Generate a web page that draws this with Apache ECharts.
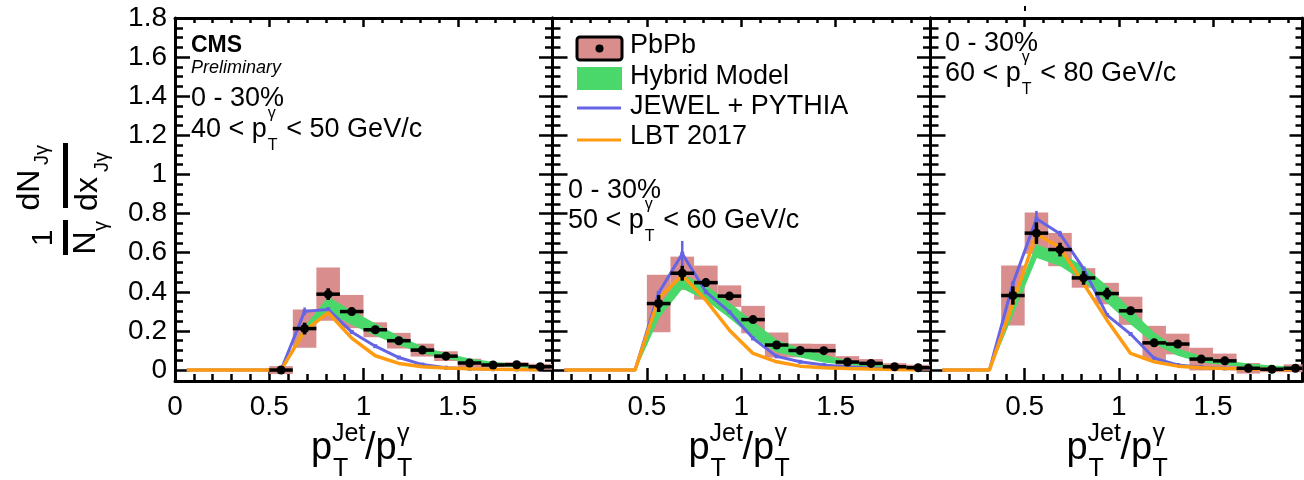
<!DOCTYPE html>
<html><head><meta charset="utf-8">
<script src="https://cdn.jsdelivr.net/npm/echarts@6/dist/echarts.min.js"></script>
<style>html,body{margin:0;padding:0;background:#fff}#c{width:1304px;height:480px}</style>
</head><body><div id="c"></div><script>
// ---------- data ----------
const binCenters = [0.0625, 0.1875, 0.3125, 0.4375, 0.5625, 0.6875, 0.8125, 0.9375, 1.0625, 1.1875, 1.3125, 1.4375, 1.5625, 1.6875, 1.8125, 1.9375];
const binHalfWidth = 0.0625;

// 40 < pT < 50
const pbpbBins40 = [0.5625, 0.6875, 0.8125, 0.9375, 1.0625, 1.1875, 1.3125, 1.4375, 1.5625, 1.6875, 1.8125, 1.9375];
const pbpb40 = [0.0, 0.212, 0.388, 0.299, 0.206, 0.150, 0.102, 0.071, 0.036, 0.026, 0.027, 0.017];
const sys40  = [0.02, 0.098, 0.136, 0.085, 0.038, 0.04, 0.033, 0.025, 0.022, 0.012, 0.013, 0.015];
const stat40 = [0.01, 0.03, 0.03, 0.02, 0.015, 0.012, 0.01, 0.008, 0.006, 0.005, 0.005, 0.005];
const hybridLo40 = [null, null, null, null, 0, 0.19, 0.30, 0.235, 0.18, 0.13, 0.09, 0.063, 0.04, 0.027, 0.018, 0.01];
const hybridHi40 = [null, null, null, null, 0, 0.215, 0.37, 0.30, 0.235, 0.17, 0.115, 0.082, 0.055, 0.038, 0.027, 0.02];
const jewel40 = [0, 0, 0, 0, 0, 0.30, 0.31, 0.195, 0.122, 0.064, 0.028, 0.012, 0.007, 0.004, 0.003, 0.002];
const jewelErr40 = [0, 0, 0, 0, 0, 0.02, 0.012, 0, 0, 0, 0, 0, 0, 0, 0, 0];
const lbt40 = [0, 0, 0, 0, 0, 0.20, 0.294, 0.163, 0.073, 0.034, 0.017, 0.010, 0.006, 0.004, 0.003, 0.002];

// 50 < pT < 60
const pbpbBins50 = [0.5625, 0.6875, 0.8125, 0.9375, 1.0625, 1.1875, 1.3125, 1.4375, 1.5625, 1.6875, 1.8125, 1.9375];
const pbpb50 = [0.34, 0.495, 0.447, 0.378, 0.258, 0.128, 0.10, 0.099, 0.041, 0.034, 0.017, 0.012];
const sys50  = [0.147, 0.085, 0.087, 0.055, 0.07, 0.064, 0.035, 0.035, 0.03, 0.022, 0.018, 0.015];
const stat50 = [0.043, 0.038, 0.022, 0.02, 0.015, 0.01, 0.008, 0.008, 0.006, 0.005, 0.004, 0.004];
const hybridLo50 = [null, null, null, 0, 0.27, 0.42, 0.36, 0.27, 0.17, 0.095, 0.068, 0.042, 0.03, 0.02, 0.01, 0.006];
const hybridHi50 = [null, null, null, 0, 0.32, 0.485, 0.43, 0.34, 0.245, 0.15, 0.108, 0.075, 0.045, 0.03, 0.02, 0.012];
const jewel50 = [0, 0, 0, 0, 0.394, 0.595, 0.40, 0.297, 0.162, 0.07, 0.042, 0.026, 0.015, 0.01, 0.006, 0.004];
const jewelErr50 = [0, 0, 0, 0, 0.01, 0.065, 0.01, 0, 0, 0, 0, 0, 0, 0, 0, 0];
const lbt50 = [0, 0, 0, 0, 0.366, 0.485, 0.357, 0.204, 0.085, 0.042, 0.02, 0.012, 0.008, 0.005, 0.003, 0.002];

// 60 < pT < 80
const pbpbBins60 = [0.4375, 0.5625, 0.6875, 0.8125, 0.9375, 1.0625, 1.1875, 1.3125, 1.4375, 1.5625, 1.6875, 1.8125, 1.9375];
const pbpb60 = [0.381, 0.70, 0.616, 0.471, 0.391, 0.303, 0.139, 0.133, 0.056, 0.047, 0.009, 0.004, 0.009];
const sys60  = [0.153, 0.105, 0.085, 0.05, 0.055, 0.072, 0.087, 0.053, 0.058, 0.037, 0.027, 0.015, 0.02];
const stat60 = [0.047, 0.055, 0.035, 0.035, 0.03, 0.02, 0.012, 0.01, 0.008, 0.007, 0.005, 0.004, 0.004];
const hybridLo60 = [null, null, 0, 0.29, 0.578, 0.536, 0.459, 0.348, 0.238, 0.139, 0.077, 0.042, 0.03, 0.018, 0.01, 0.006];
const hybridHi60 = [null, null, 0, 0.33, 0.638, 0.595, 0.527, 0.425, 0.306, 0.187, 0.106, 0.068, 0.045, 0.03, 0.02, 0.013];
const jewel60 = [0, 0, 0, 0.442, 0.774, 0.697, 0.519, 0.281, 0.184, 0.06, 0.026, 0.014, 0.008, 0.005, 0.003, 0.002];
const jewelErr60 = [0, 0, 0, 0.012, 0.04, 0.015, 0, 0, 0, 0, 0, 0, 0, 0, 0, 0];
const lbt60 = [0, 0, 0, 0.34, 0.697, 0.626, 0.442, 0.255, 0.085, 0.042, 0.02, 0.012, 0.008, 0.005, 0.003, 0.002];

// ticks
const xMajorTicks = [0, 0.5, 1, 1.5, 2];
const xMinorTicks = [0.1, 0.2, 0.3, 0.4, 0.6, 0.7, 0.8, 0.9, 1.1, 1.2, 1.3, 1.4, 1.6, 1.7, 1.8, 1.9];
const xTickLabelsFirst = [0, 0.5, 1, 1.5];
const xTickLabelsOther = [0.5, 1, 1.5];
const yMajorTicks = [0, 0.2, 0.4, 0.6, 0.8, 1, 1.2, 1.4, 1.6, 1.8];
const yMinorTicks = [0.05, 0.1, 0.15, 0.25, 0.3, 0.35, 0.45, 0.5, 0.55, 0.65, 0.7, 0.75, 0.85, 0.9, 0.95, 1.05, 1.1, 1.15, 1.25, 1.3, 1.35, 1.45, 1.5, 1.55, 1.65, 1.7, 1.75];

// ---------- styling / layout ----------
const FONT = '"Liberation Sans", Arial, Helvetica, sans-serif';
const C_PINK = '#d98d8d', C_GREEN = '#4bd86b', C_BLUE = '#6464e4', C_ORANGE = '#ff9b10';
const yMin = -0.056, yMax = 1.8;
const panels = [
  {left: 175, width: 377, xMax: 2.0, labels: xTickLabelsFirst, yLabels: true,
   d: {bins: pbpbBins40, vals: pbpb40, sys: sys40, stat: stat40, lo: hybridLo40, hi: hybridHi40, jewel: jewel40, jewelErr: jewelErr40, lbt: lbt40}},
  {left: 552.5, width: 377.5, xMax: 2.0, labels: xTickLabelsOther, yLabels: false,
   d: {bins: pbpbBins50, vals: pbpb50, sys: sys50, stat: stat50, lo: hybridLo50, hi: hybridHi50, jewel: jewel50, jewelErr: jewelErr50, lbt: lbt50}},
  {left: 930.5, width: 372, xMax: 1.975, labels: xTickLabelsOther, yLabels: false,
   d: {bins: pbpbBins60, vals: pbpb60, sys: sys60, stat: stat60, lo: hybridLo60, hi: hybridHi60, jewel: jewel60, jewelErr: jewelErr60, lbt: lbt60}}
];

const grids = [], xAxes = [], yAxes = [], series = [];

function xAx(i, pos, ticks, len, line, labels, max) {
  return {type: 'value', gridIndex: i, position: pos, min: 0, max: max,
    axisLine: {show: line, onZero: false, lineStyle: {color: '#000', width: 3}},
    axisTick: {show: true, inside: true, length: len, customValues: ticks.filter(v => v <= max), lineStyle: {color: '#000', width: 2.5}},
    axisLabel: labels ? {show: true, customValues: labels, fontSize: 28, fontFamily: FONT, color: '#000', margin: 12} : {show: false},
    splitLine: {show: false}, minorTick: {show: false}};
}
function yAx(i, pos, ticks, len, line, labels) {
  return {type: 'value', gridIndex: i, position: pos, min: yMin, max: yMax,
    axisLine: {show: line, onZero: false, lineStyle: {color: '#000', width: 3}},
    axisTick: {show: true, inside: true, length: len, customValues: ticks, lineStyle: {color: '#000', width: 2.5}},
    axisLabel: labels ? {show: true, customValues: labels, fontSize: 28, fontFamily: FONT, color: '#000', margin: 8} : {show: false},
    splitLine: {show: false}, minorTick: {show: false}};
}

panels.forEach((p, i) => {
  grids.push({left: p.left, top: 18, width: p.width, height: 363, containLabel: false, outerBoundsMode: 'none'});
  xAxes.push(xAx(i, 'bottom', xMajorTicks, 13, true, p.labels, p.xMax));
  xAxes.push(xAx(i, 'bottom', xMinorTicks, 7, false, null, p.xMax));
  xAxes.push(xAx(i, 'top', xMajorTicks, 9, true, null, p.xMax));
  xAxes.push(xAx(i, 'top', xMinorTicks, 5, false, null, p.xMax));
  yAxes.push(yAx(i, 'left', yMajorTicks, 15, true, p.yLabels ? yMajorTicks : null));
  yAxes.push(yAx(i, 'left', yMinorTicks, 8, false, null));
  yAxes.push(yAx(i, 'right', yMajorTicks, 13, true, null));
  yAxes.push(yAx(i, 'right', yMinorTicks, 7, false, null));

  const d = p.d, xi = 4 * i, yi = 4 * i;
  // systematic boxes
  series.push({
    type: 'custom', xAxisIndex: xi, yAxisIndex: yi, z: 2,
    data: d.bins.map((x, k) => [x, d.vals[k], d.sys[k]]),
    renderItem: (params, api) => {
      const x = api.value(0), y = api.value(1), s = api.value(2);
      const a = api.coord([x - binHalfWidth, y + s]), b = api.coord([x + binHalfWidth, y - s]);
      const cs = params.coordSys;
      const r = echarts.graphic.clipRectByRect({x: a[0], y: a[1], width: b[0] - a[0], height: b[1] - a[1]},
        {x: cs.x, y: cs.y, width: cs.width, height: cs.height});
      return r ? {type: 'rect', shape: r, style: {fill: C_PINK}} : null;
    }
  });
  // hybrid band
  const band = binCenters.map((x, k) => [x, d.lo[k], d.hi[k]]).filter(v => v[1] !== null);
  series.push({
    type: 'custom', xAxisIndex: xi, yAxisIndex: yi, z: 3, data: band,
    renderItem: (params, api) => {
      if (params.dataIndex !== 0) return null;
      const up = band.map(v => api.coord([v[0], v[2]]));
      const dn = band.slice().reverse().map(v => api.coord([v[0], v[1]]));
      return {type: 'polygon', shape: {points: up.concat(dn)}, style: {fill: C_GREEN, stroke: C_GREEN, lineWidth: 1.5}};
    }
  });
  // JEWEL
  series.push({
    type: 'line', xAxisIndex: xi, yAxisIndex: yi, z: 4, clip: true,
    data: binCenters.map((x, k) => [x, d.jewel[k]]),
    symbol: 'rect', symbolSize: (v) => v[1] > 0 ? 4 : 0, showSymbol: true,
    lineStyle: {color: C_BLUE, width: 3}, itemStyle: {color: C_BLUE}
  });
  series.push({
    type: 'custom', xAxisIndex: xi, yAxisIndex: yi, z: 4,
    data: binCenters.map((x, k) => [x, d.jewel[k], d.jewelErr[k]]).filter(v => v[2] > 0),
    renderItem: (params, api) => {
      const x = api.value(0), y = api.value(1), e = api.value(2);
      const a = api.coord([x, y + e]), b = api.coord([x, y - e]);
      return {type: 'line', shape: {x1: a[0], y1: a[1], x2: b[0], y2: b[1]}, style: {stroke: C_BLUE, lineWidth: 2.5}};
    }
  });
  // LBT
  series.push({
    type: 'line', xAxisIndex: xi, yAxisIndex: yi, z: 5, clip: true,
    data: binCenters.map((x, k) => [x, d.lbt[k]]),
    symbol: 'none', lineStyle: {color: C_ORANGE, width: 3.5}
  });
  // data points
  series.push({
    type: 'custom', xAxisIndex: xi, yAxisIndex: yi, z: 6,
    data: d.bins.map((x, k) => [x, d.vals[k], d.stat[k]]),
    renderItem: (params, api) => {
      const x = api.value(0), y = api.value(1), e = api.value(2);
      const cs = params.coordSys;
      const c = api.coord([x, y]);
      const l = api.coord([x - binHalfWidth, y]), r = api.coord([x + binHalfWidth, y]);
      const t = api.coord([x, y + e]), b = api.coord([x, y - e]);
      const lx = Math.max(l[0], cs.x), rx = Math.min(r[0], cs.x + cs.width);
      return {type: 'group', children: [
        {type: 'line', shape: {x1: lx, y1: c[1], x2: rx, y2: c[1]}, style: {stroke: '#000', lineWidth: 3.5}},
        {type: 'line', shape: {x1: c[0], y1: t[1], x2: c[0], y2: b[1]}, style: {stroke: '#000', lineWidth: 3.5}},
        {type: 'circle', shape: {cx: c[0], cy: c[1], r: 4.5}, style: {fill: '#000'}}
      ]};
    }
  });
});

// ---------- text / decorations ----------
function txt(text, x, y, size, opt) {
  opt = opt || {};
  return {type: 'text', x: x, y: y, rotation: opt.rot || 0, z: 100,
    style: {text: text, fill: '#000', fontSize: size, fontFamily: FONT,
      fontWeight: opt.bold ? 'bold' : 'normal', fontStyle: opt.italic ? 'italic' : 'normal',
      align: opt.align || 'left', verticalAlign: 'middle'}};
}
const g = [];
// y-axis title (rotated fraction)
const R = Math.PI / 2;
g.push(txt('1', 44, 238, 30, {rot: R, align: 'center'}));
g.push(txt('N', 86, 243, 32, {rot: R, align: 'center'}));
g.push(txt('γ', 101, 226, 20, {rot: R, align: 'center'}));
g.push({type: 'rect', shape: {x: 63, y: 220, width: 5, height: 35}, style: {fill: '#000'}});
g.push(txt('dN', 30, 190, 32, {rot: R, align: 'center'}));
g.push(txt('Jγ', 42, 155, 20, {rot: R, align: 'center'}));
g.push({type: 'rect', shape: {x: 63, y: 143, width: 5, height: 65}, style: {fill: '#000'}});
g.push(txt('dx', 88, 194, 32, {rot: R, align: 'center'}));
g.push(txt('Jγ', 102, 162, 20, {rot: R, align: 'center'}));

// x-axis titles
panels.forEach((p) => {
  const x0 = p.left + 136;
  g.push(txt('p', x0, 449, 38));
  g.push(txt('Jet', x0 + 21, 434, 25));
  g.push(txt('T', x0 + 22, 469, 25));
  g.push(txt('/p', x0 + 54, 449, 38));
  g.push(txt('γ', x0 + 86, 434, 25));
  g.push(txt('T', x0 + 86, 469, 25));
});

// panel labels
function ptLine(x, y, a, b) {
  const w = 2.808 * 27;
  g.push(txt(a, x, y, 27));
  g.push(txt('γ', x + w + 1, y - 16, 16));
  g.push(txt('T', x + w + 1, y + 16, 16));
  g.push(txt(b, x + w + 12, y, 27));
}
g.push(txt('CMS', 191, 46, 23, {bold: true}));
g.push(txt('Preliminary', 191, 68, 18, {italic: true}));
g.push(txt('0 - 30%', 191, 99, 27));
ptLine(191, 130, '40 < p', ' < 50 GeV/c');
g.push(txt('0 - 30%', 568, 191, 27));
ptLine(568, 221, '50 < p', ' < 60 GeV/c');
g.push(txt('0 - 30%', 945, 44, 27));
ptLine(945, 74, '60 < p', ' < 80 GeV/c');

// legend
g.push({type: 'rect', shape: {x: 577, y: 37, width: 45, height: 23, r: 3}, style: {fill: C_PINK, stroke: '#000', lineWidth: 3}, z: 100});
g.push({type: 'circle', shape: {cx: 599.5, cy: 48.5, r: 4}, style: {fill: '#000'}, z: 101});
g.push(txt('PbPb', 630, 46, 27));
g.push({type: 'rect', shape: {x: 577, y: 67, width: 45, height: 23}, style: {fill: C_GREEN}, z: 100});
g.push(txt('Hybrid Model', 630, 77, 27));
g.push({type: 'line', shape: {x1: 577, y1: 108, x2: 621, y2: 108}, style: {stroke: C_BLUE, lineWidth: 3}, z: 100});
g.push(txt('JEWEL + PYTHIA', 630, 107, 27));
g.push({type: 'line', shape: {x1: 577, y1: 140, x2: 621, y2: 140}, style: {stroke: C_ORANGE, lineWidth: 3}, z: 100});
g.push(txt('LBT 2017', 630, 137, 27));
// small stray mark above top frame (as in original)
g.push({type: 'line', shape: {x1: 1025, y1: 6, x2: 1025, y2: 11}, style: {stroke: '#000', lineWidth: 2}, z: 100});

const chart = echarts.init(document.getElementById('c'), null, {renderer: 'canvas'});
chart.setOption({
  animation: false,
  backgroundColor: '#fff',
  grid: grids, xAxis: xAxes, yAxis: yAxes, series: series, graphic: g
});
</script></body></html>
